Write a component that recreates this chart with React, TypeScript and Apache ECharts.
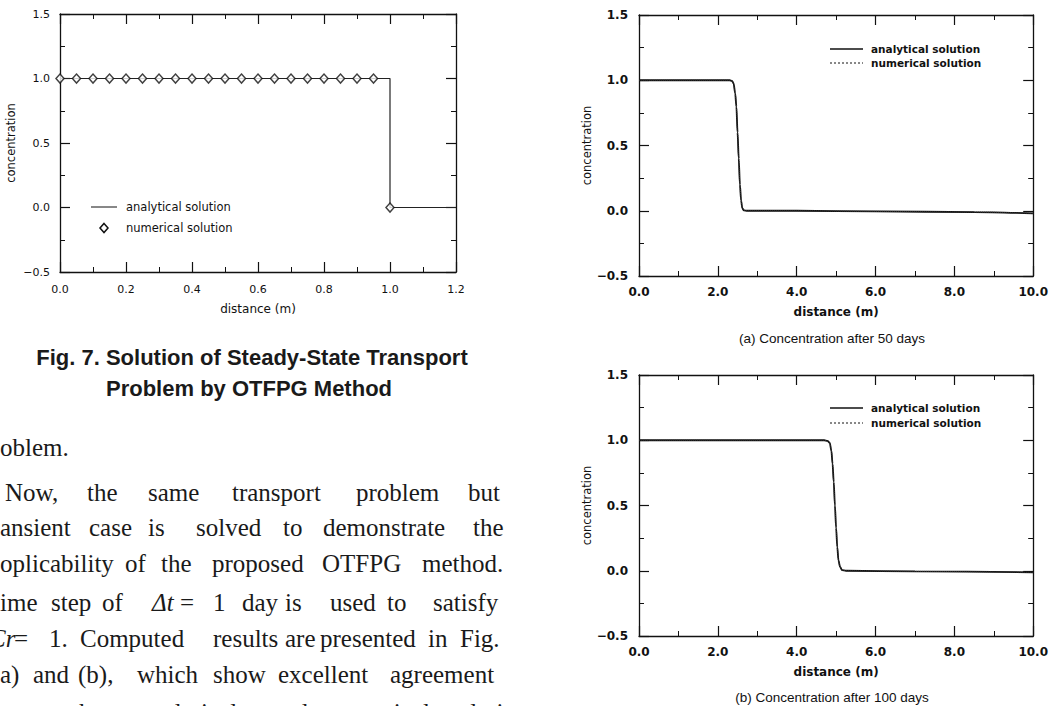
import React, { useEffect, useRef } from "react";
import * as echarts from "echarts";

// ---------- data ----------
// Fig. 7 (steady state)
const steadyAnalyticalX = [0, 1.0, 1.0, 1.2];
const steadyAnalyticalY = [1, 1, 0, 0];
const steadyNumericalX = [0, 0.05, 0.1, 0.15, 0.2, 0.25, 0.3, 0.35, 0.4, 0.45, 0.5, 0.55, 0.6, 0.65, 0.7, 0.75, 0.8, 0.85, 0.9, 0.95, 1.0];
const steadyNumericalY = [1, 1, 1, 1, 1, 1, 1, 1, 1, 1, 1, 1, 1, 1, 1, 1, 1, 1, 1, 1, 0];

// (a) after 50 days
const day50X = [0, 1, 2, 2.3, 2.36, 2.4, 2.44, 2.47, 2.5, 2.53, 2.56, 2.59, 2.62, 2.66, 2.75, 4, 6, 8.5, 10];
const day50Analytical = [1, 1, 1, 1, 0.995, 0.975, 0.9, 0.8, 0.6, 0.4, 0.2, 0.08, 0.02, 0.003, 0, 0, -0.005, -0.01, -0.02];
const day50Numerical = [1, 1, 1, 1, 0.994, 0.973, 0.9, 0.8, 0.6, 0.4, 0.2, 0.08, 0.021, 0.004, 0, 0, -0.005, -0.01, -0.02];

// (b) after 100 days
const day100X = [0, 2, 4, 4.7, 4.78, 4.84, 4.88, 4.91, 4.94, 4.97, 5.0, 5.03, 5.06, 5.1, 5.15, 5.25, 7, 10];
const day100Analytical = [1, 1, 1, 1, 0.995, 0.98, 0.92, 0.82, 0.68, 0.5, 0.33, 0.18, 0.08, 0.03, 0.005, 0, -0.005, -0.012];
const day100Numerical = [1, 1, 1, 1, 0.994, 0.978, 0.92, 0.82, 0.68, 0.5, 0.33, 0.18, 0.08, 0.031, 0.006, 0, -0.005, -0.012];

const legendLabels = ["analytical solution", "numerical solution"];
const captionFig7 = ["Fig. 7. Solution of Steady-State Transport", "Problem by OTFPG Method"];
const captionA = "(a) Concentration after 50 days";
const captionB = "(b) Concentration after 100 days";
const xName = "distance (m)";
const yName = "concentration";

// body text (layout of justified lines)
const bodyLines: { y: number; words: [string, number, boolean?][] }[] = [
  { y: 447, words: [["oblem.", 0]] },
  { y: 492, words: [["Now,", 5], ["the", 87], ["same", 148], ["transport", 232], ["problem", 356], ["but", 468]] },
  { y: 527, words: [["ansient", 0], ["case", 89], ["is", 148], ["solved", 196], ["to", 283], ["demonstrate", 323], ["the", 473]] },
  { y: 563, words: [["oplicability", 0], ["of", 125], ["the", 161], ["proposed", 212], ["OTFPG", 322], ["method.", 422]] },
  { y: 602, words: [["ime", 0], ["step", 51], ["of", 102], ["Δt", 152, true], ["=", 180], ["1", 213], ["day", 242], ["is", 285], ["used", 330], ["to", 387], ["satisfy", 433]] },
  { y: 638, words: [["Cr", -11, true], ["=", 14], ["1.", 49], ["Computed", 80], ["results", 213], ["are", 285], ["presented", 320], ["in", 428], ["Fig.", 460]] },
  { y: 674, words: [["a)", 0], ["and", 33], ["(b),", 78], ["which", 137], ["show", 213], ["excellent", 278], ["agreement", 390]] },
  { y: 712, words: [["between", -22], ["the", 72], ["analytical", 140], ["and", 272], ["numerical", 330], ["solutions", 448]] },
];

const CHART_FONT = "'DejaVu Sans', sans-serif";
const INK = "#111";

const zip = (xs: number[], ys: number[]) => xs.map((x, i) => [x, ys[i]]);
const fmt1 = (v: number) => (v < 0 ? "\u2212" + Math.abs(v).toFixed(1) : v.toFixed(1));

function xAxesFor(grid: number, max: number, interval: number, fontSize: number, bold: boolean, labelMargin: number, nameGap: number) {
  const common = {
    type: "value" as const,
    gridIndex: grid,
    min: 0,
    max,
    interval,
    splitLine: { show: false },
    axisLine: { show: true, onZero: false, lineStyle: { color: INK, width: 1.3 } },
    axisTick: { show: true, inside: true, length: 10, lineStyle: { color: INK, width: 1.2 } },
    minorTick: { show: true, splitNumber: 2, length: 5, lineStyle: { color: INK, width: 1 } },
  };
  return [
    {
      ...common,
      position: "bottom",
      axisLabel: { show: true, formatter: fmt1, color: INK, fontSize, fontFamily: CHART_FONT, fontWeight: bold ? "bold" : "normal", margin: labelMargin, showMinLabel: true, showMaxLabel: true },
      name: xName,
      nameLocation: "middle",
      nameGap,
      nameTextStyle: { color: INK, fontSize: 12, fontFamily: CHART_FONT, fontWeight: bold ? "bold" : "normal" },
    },
    { ...common, position: "top", axisLabel: { show: false } },
  ];
}

function yAxesFor(grid: number, fontSize: number, bold: boolean, labelMargin: number, nameGap: number) {
  const common = {
    type: "value" as const,
    gridIndex: grid,
    min: -0.5,
    max: 1.5,
    interval: 0.5,
    splitLine: { show: false },
    axisLine: { show: true, onZero: false, lineStyle: { color: INK, width: 1.3 } },
    axisTick: { show: true, inside: true, length: 10, lineStyle: { color: INK, width: 1.2 } },
    minorTick: { show: true, splitNumber: 2, length: 5, lineStyle: { color: INK, width: 1 } },
  };
  return [
    {
      ...common,
      position: "left",
      axisLabel: { show: true, formatter: fmt1, color: INK, fontSize, fontFamily: CHART_FONT, fontWeight: bold ? "bold" : "normal", margin: labelMargin },
      name: yName,
      nameLocation: "middle",
      nameGap,
      nameTextStyle: { color: INK, fontSize: 11.5, fontFamily: CHART_FONT },
    },
    { ...common, position: "right", axisLabel: { show: false } },
  ];
}

function txt(text: string, x: number, y: number, font: string, align = "left", fill = INK) {
  return {
    type: "text",
    x,
    y,
    silent: true,
    style: { text, font, fill, align, textAlign: align, verticalAlign: "middle", textVerticalAlign: "middle" },
  };
}

function lineEl(x1: number, x2: number, y: number, width: number, dash?: number[]) {
  return {
    type: "line",
    silent: true,
    shape: { x1, y1: y, x2, y2: y },
    style: { stroke: INK, lineWidth: width, lineDash: dash },
  };
}

export default function App() {
  const ref = useRef<HTMLDivElement>(null);

  useEffect(() => {
    if (!ref.current) return;
    const chart = echarts.init(ref.current, undefined, { renderer: "svg" });

    const legendFontSmall = `11.5px ${CHART_FONT}`;
    const legendFontBold = `bold 10.5px ${CHART_FONT}`;
    const bodyFont = "25px 'Liberation Serif', serif";
    const bodyFontItalic = "italic 25px 'Liberation Serif', serif";

    const graphic: any[] = [
      // Fig.7 legend
      lineEl(91, 117, 207, 1),
      txt(legendLabels[0], 126, 207, legendFontSmall),
      {
        type: "polygon",
        silent: true,
        shape: { points: [[104, 223.5], [108, 228], [104, 232.5], [100, 228]] },
        style: { fill: "#fff", stroke: INK, lineWidth: 1.5 },
      },
      txt(legendLabels[1], 126, 228, legendFontSmall),
      // (a) legend
      lineEl(830, 863, 49, 1.6),
      txt(legendLabels[0], 871, 49, legendFontBold),
      lineEl(830, 863, 63, 1, [2, 2]),
      txt(legendLabels[1], 871, 63, legendFontBold),
      // (b) legend
      lineEl(830, 863, 408, 1.6),
      txt(legendLabels[0], 871, 408, legendFontBold),
      lineEl(830, 863, 423, 1, [2, 2]),
      txt(legendLabels[1], 871, 423, legendFontBold),
      // captions
      txt(captionFig7[0], 252, 357, "bold 22px 'Liberation Sans', sans-serif", "center", "#1a1a1a"),
      txt(captionFig7[1], 249, 388, "bold 22px 'Liberation Sans', sans-serif", "center", "#1a1a1a"),
      txt(captionA, 832, 338, "13.5px 'Liberation Sans', sans-serif", "center"),
      txt(captionB, 832, 697, "13.5px 'Liberation Sans', sans-serif", "center"),
    ];
    bodyLines.forEach((line) => {
      line.words.forEach(([w, x, it]) => {
        graphic.push(txt(w, x, line.y, it ? bodyFontItalic : bodyFont, "left", "#1a1a1a"));
      });
    });

    const option: any = {
      animation: false,
      backgroundColor: "#fff",
      grid: [
        { left: 60, top: 14, width: 396, height: 258 },
        { left: 639, top: 15, width: 397, height: 261 },
        { left: 639, top: 375, width: 397, height: 261 },
      ],
      xAxis: [
        ...xAxesFor(0, 1.2, 0.2, 11, false, 12, 31),
        ...xAxesFor(1, 10, 2, 12, true, 10, 30),
        ...xAxesFor(2, 10, 2, 12, true, 10, 30),
      ],
      yAxis: [
        ...yAxesFor(0, 11, false, 10, 43),
        ...yAxesFor(1, 12, true, 11, 45),
        ...yAxesFor(2, 12, true, 11, 45),
      ],
      series: [
        {
          type: "line",
          name: "analytical solution",
          xAxisIndex: 0,
          yAxisIndex: 0,
          data: zip(steadyAnalyticalX, steadyAnalyticalY),
          showSymbol: false,
          lineStyle: { color: "#222", width: 1.2 },
          z: 2,
        },
        {
          type: "scatter",
          name: "numerical solution",
          xAxisIndex: 0,
          yAxisIndex: 0,
          data: zip(steadyNumericalX, steadyNumericalY),
          symbol: "diamond",
          symbolSize: [8, 9],
          itemStyle: { color: "#fff", borderColor: INK, borderWidth: 1.5 },
          z: 3,
        },
        {
          type: "line",
          name: "analytical solution",
          xAxisIndex: 2,
          yAxisIndex: 2,
          data: zip(day50X, day50Analytical),
          showSymbol: false,
          smooth: 0.3,
          smoothMonotone: "x",
          lineStyle: { color: INK, width: 1.8 },
        },
        {
          type: "line",
          name: "numerical solution",
          xAxisIndex: 2,
          yAxisIndex: 2,
          data: zip(day50X, day50Numerical),
          showSymbol: false,
          smooth: 0.3,
          smoothMonotone: "x",
          lineStyle: { color: "#333", width: 1, type: "dotted" },
        },
        {
          type: "line",
          name: "analytical solution",
          xAxisIndex: 4,
          yAxisIndex: 4,
          data: zip(day100X, day100Analytical),
          showSymbol: false,
          smooth: 0.3,
          smoothMonotone: "x",
          lineStyle: { color: INK, width: 1.8 },
        },
        {
          type: "line",
          name: "numerical solution",
          xAxisIndex: 4,
          yAxisIndex: 4,
          data: zip(day100X, day100Numerical),
          showSymbol: false,
          smooth: 0.3,
          smoothMonotone: "x",
          lineStyle: { color: "#333", width: 1, type: "dotted" },
        },
      ],
      graphic,
    };

    chart.setOption(option);
    return () => chart.dispose();
  }, []);

  return (
    <div
      ref={ref}
      style={{ position: "absolute", left: 0, top: 0, width: 1051, height: 706, background: "#fff", overflow: "hidden" }}
    />
  );
}
